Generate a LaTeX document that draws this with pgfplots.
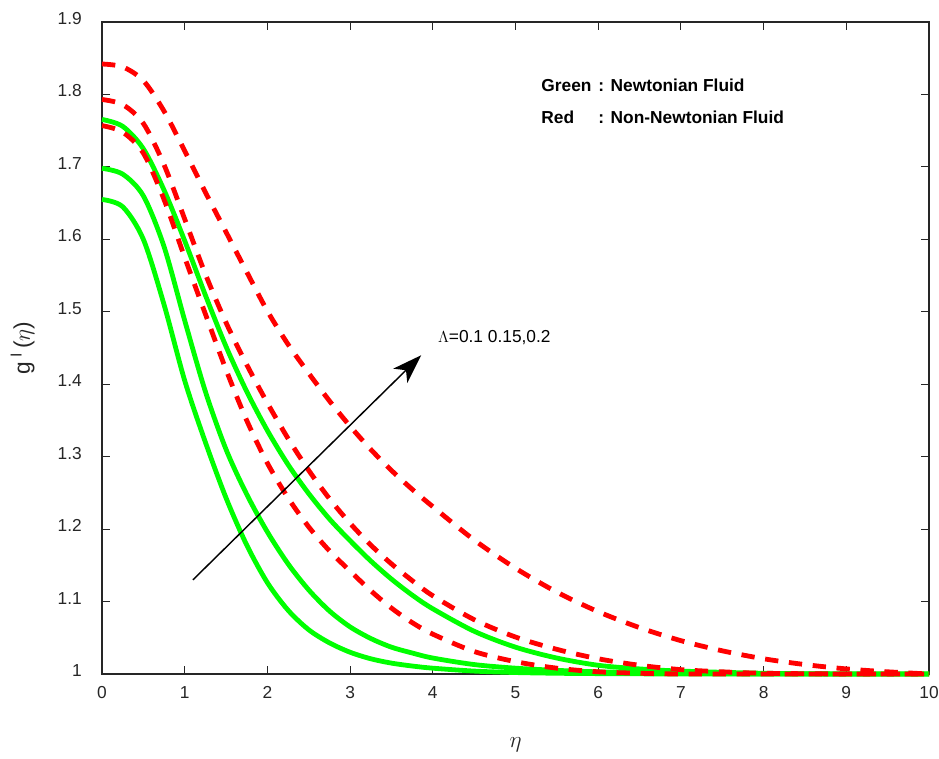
\documentclass[border=0pt]{standalone}
\usepackage{fontspec}
\setmainfont{Liberation Sans}
\usepackage{pgfplots}
\pgfplotsset{compat=1.18}
\usetikzlibrary{arrows.meta}

\definecolor{axgray}{RGB}{38,38,38}
\definecolor{nwgreen}{RGB}{0,255,0}
\definecolor{nnred}{RGB}{255,0,0}

\begin{document}
\begin{tikzpicture}
\begin{axis}[
  scale only axis,
  width=620.25pt, height=489pt,
  xmin=0, xmax=10, ymin=1, ymax=1.9,
  clip=false,
  xtick={0,1,2,3,4,5,6,7,8,9,10},
  xticklabels={0,1,2,3,4,5,6,7,8,9,10},
  ytick={1,1.1,1.2,1.3,1.4,1.5,1.6,1.7,1.8,1.9},
  yticklabels={1,1.1,1.2,1.3,1.4,1.5,1.6,1.7,1.8,1.9},
  xtick pos=both, ytick pos=both,
  xticklabel pos=bottom, yticklabel pos=left,
  tick align=inside,
  major tick length=6pt,
  axis line style={axgray, line width=0.9pt},
  every tick/.style={axgray, line width=0.75pt},
  /pgf/number format/assume math mode=true,
  tick label style={font=\fontsize{13}{15}\selectfont, text=axgray},
  xticklabel style={anchor=north, inner sep=0pt, yshift=-9pt},
  yticklabel style={anchor=east, inner sep=0pt, xshift=-15pt, yshift=2.6pt},
  xlabel={$\eta$},
  xlabel style={at={(axis description cs:0.5,0)}, anchor=center, yshift=-53pt,
                font=\fontsize{18}{20}\selectfont, text=axgray},
  every axis plot/.append style={line width=3.6pt, smooth, tension=0.5},
  red dashes/.style={nnred, dash pattern=on 10pt off 8pt},
]

% Newtonian fluid, Lambda = 0.1, 0.15, 0.2
\addplot[nwgreen] coordinates {
  (0,1.655) (0.25,1.645) (0.5,1.600) (0.75,1.510) (1.0,1.405) (1.25,1.320)
  (1.5,1.243) (1.75,1.178) (2.0,1.126) (2.25,1.088) (2.5,1.061) (2.75,1.043)
  (3.0,1.030) (3.25,1.021) (3.5,1.015) (3.75,1.011) (4.0,1.008) (4.5,1.004)
  (5.0,1.002) (5.5,1.001) (6.0,1.0005) (7,1) (8,1) (9,1) (10,1)};
\addplot[nwgreen] coordinates {
  (0,1.698) (0.25,1.690) (0.5,1.660) (0.75,1.590) (1.0,1.488) (1.25,1.390)
  (1.5,1.310) (1.75,1.248) (2.0,1.196) (2.25,1.152) (2.5,1.116) (2.75,1.087)
  (3.0,1.065) (3.25,1.049) (3.5,1.037) (3.75,1.029) (4.0,1.022) (4.5,1.013)
  (5.0,1.008) (5.5,1.005) (6.0,1.003) (7,1.001) (8,1) (9,1) (10,1)};
\addplot[nwgreen] coordinates {
  (0,1.7655) (0.25,1.756) (0.5,1.725) (0.75,1.668) (1.0,1.598) (1.25,1.523)
  (1.5,1.452) (1.75,1.390) (2.0,1.336) (2.25,1.289) (2.5,1.249) (2.75,1.214)
  (3.0,1.184) (3.25,1.156) (3.5,1.131) (3.75,1.109) (4.0,1.090) (4.5,1.059)
  (5.0,1.037) (5.5,1.022) (6.0,1.012) (6.5,1.007) (7.0,1.004) (8,1.001)
  (9,1) (10,1)};

% Non-Newtonian fluid, Lambda = 0.1, 0.15, 0.2
\addplot[red dashes] coordinates {
  (0,1.757) (0.25,1.748) (0.5,1.719) (0.75,1.655) (1.0,1.575) (1.25,1.497)
  (1.5,1.420) (1.75,1.350) (2.0,1.291) (2.25,1.243) (2.5,1.203) (2.75,1.170)
  (3.0,1.142) (3.25,1.115) (3.5,1.091) (3.75,1.071) (4.0,1.055) (4.5,1.031)
  (5.0,1.017) (5.5,1.008) (6.0,1.003) (6.5,1.001) (7,1) (8,1) (9,1) (10,1)};
\addplot[red dashes] coordinates {
  (0,1.793) (0.25,1.786) (0.5,1.760) (0.75,1.703) (1.0,1.628) (1.25,1.552)
  (1.5,1.485) (1.75,1.427) (2.0,1.374) (2.25,1.325) (2.5,1.281) (2.75,1.242)
  (3.0,1.208) (3.25,1.178) (3.5,1.152) (3.75,1.129) (4.0,1.108) (4.5,1.075)
  (5.0,1.051) (5.5,1.034) (6.0,1.021) (6.5,1.012) (7.0,1.006) (7.5,1.003)
  (8,1.001) (9,1) (10,1)};
\addplot[red dashes] coordinates {
  (0,1.842) (0.25,1.838) (0.5,1.819) (0.75,1.777) (1.0,1.722) (1.25,1.665)
  (1.5,1.610) (1.75,1.555) (2.0,1.501) (2.25,1.455) (2.5,1.415) (2.75,1.377)
  (3.0,1.342) (3.25,1.310) (3.5,1.281) (3.75,1.255) (4.0,1.231) (4.5,1.185)
  (5.0,1.146) (5.5,1.113) (6.0,1.086) (6.5,1.064) (7.0,1.046) (7.5,1.032)
  (8.0,1.021) (8.5,1.013) (9.0,1.007) (9.5,1.003) (10,1.0)};

% direction of increasing Lambda
\draw[black, line width=1.1pt, -{Stealth[length=22pt, width=15pt, inset=6pt]}]
  (axis cs:1.10,1.13) -- (axis cs:3.86,1.44);
\node[anchor=base west, inner sep=0pt, font=\fontsize{13}{15}\selectfont]
  at (axis cs:4.06,1.457) {$\Lambda$=0.1 0.15,0.2};

% colour key
\node[anchor=base west, inner sep=0pt, font=\fontsize{13}{15}\selectfont\bfseries]
  at (axis cs:5.31,1.8046) {Green};
\node[anchor=base west, inner sep=0pt, font=\fontsize{13}{15}\selectfont\bfseries]
  at (axis cs:6.0,1.8046) {: Newtonian Fluid};
\node[anchor=base west, inner sep=0pt, font=\fontsize{13}{15}\selectfont\bfseries]
  at (axis cs:5.31,1.7596) {Red};
\node[anchor=base west, inner sep=0pt, font=\fontsize{13}{15}\selectfont\bfseries]
  at (axis cs:6.0,1.7596) {: Non-Newtonian Fluid};

% y axis label
\node[xshift=-59.5pt, rotate=90, anchor=center, inner sep=0pt, text=axgray,
      font=\fontsize{17}{19}\selectfont]
  at (axis description cs:0,0.5) {g\,\textsuperscript{I}\,($\eta$)};
\end{axis}
\pgfresetboundingbox
\useasboundingbox ([xshift=-76.5pt, yshift=-63.75pt]current axis.south west)
  rectangle ([xshift=7.5pt, yshift=16.5pt]current axis.north east);
\end{tikzpicture}
\end{document}
